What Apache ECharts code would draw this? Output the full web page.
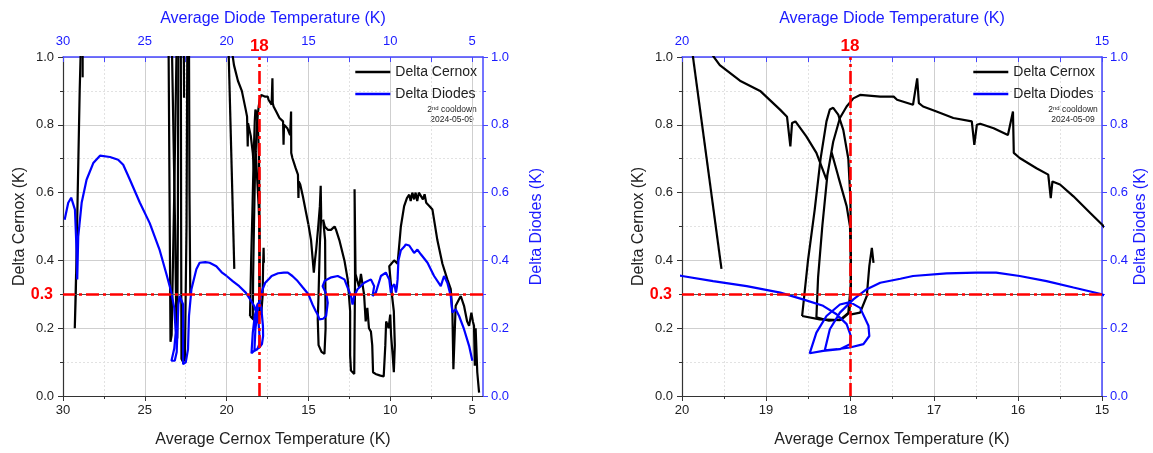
<!DOCTYPE html>
<html><head><meta charset="utf-8">
<script src="https://cdn.jsdelivr.net/npm/echarts@6/dist/echarts.min.js"></script>
<style>html,body{margin:0;padding:0;background:#fff}#c{width:1153px;height:453px}</style>
</head><body><div id="c"></div>
<script>
// ---------------- DATA ----------------
// [Average Cernox Temperature (K), Delta Cernox (K)]
const cernoxNear30   = [[29.2,0.36],[29.28,0.2],[29.22,0.3],[29.1,0.6],[28.98,0.9],[28.9,1.05]];
const cernoxStub29   = [[28.8,1.05],[28.8,0.94]];
const cernoxLoops23a = [[23.55,1.05],[23.43,0.16],[23.36,0.18],[23.2,0.6],[23.05,1.05]];
const cernoxLoops23b = [[23.35,1.05],[23.15,0.5],[23.07,0.2],[23.02,0.17],[22.98,0.5],[22.95,1.05]];
const cernoxStub22   = [[22.62,1.05],[22.6,0.88]];
const cernoxLoops22  = [[22.8,1.05],[22.78,0.5],[22.76,0.11],[22.66,0.1],[22.55,0.11],[22.45,0.5],[22.4,1.05]];
const cernoxTail22   = [[22.3,1.05],[22.27,0.6],[22.22,0.3]];
const cernoxDrop20   = [[19.88,1.02],[19.53,0.375]];
const cernox18K = [[19.68,1.02],[19.55,0.976],[19.31,0.93],[19.07,0.90],[18.83,0.844],[18.75,0.824],[18.71,0.736],
  [18.69,0.805],[18.65,0.81],[18.52,0.766],[18.40,0.717],[18.28,0.638],[18.22,0.72],[18.14,0.648],[18.04,0.56],
  [18.0,0.5],[17.99,0.4],[17.99,0.3],[18.01,0.245],[18.1,0.226],[18.25,0.222],[18.4,0.232],[18.38,0.35],[18.33,0.5],
  [18.27,0.65],[18.2,0.75],[18.12,0.82],[18.04,0.854],[17.96,0.878],[17.88,0.888],[17.64,0.883],[17.48,0.883],
  [17.44,0.874],[17.25,0.859],[17.2,0.937],[17.18,0.864],[17.13,0.854],[16.97,0.839],[16.77,0.82],[16.55,0.81],
  [16.52,0.741],[16.49,0.8],[16.45,0.803],[16.29,0.79],[16.12,0.77],[16.06,0.839],[16.05,0.717],[15.98,0.702],
  [15.78,0.672],[15.64,0.653],[15.61,0.584],[15.59,0.633],[15.5,0.624],[15.34,0.589],[15.14,0.54],[15.0,0.506]];
const cernoxOuterLoop18 = [[18.57,0.236],[18.5,0.4],[18.42,0.55],[18.35,0.7],[18.28,0.81],[18.24,0.845],[18.2,0.85],
  [18.14,0.83],[18.08,0.785],[18.02,0.70],[17.995,0.58],[17.99,0.45],[17.99,0.33],[18.02,0.245],[18.12,0.224],
  [18.36,0.226],[18.57,0.236]];
const cernoxRightLoop18 = [[18.0,0.24],[17.88,0.246],[17.8,0.295],[17.77,0.383],[17.74,0.437],[17.72,0.393]];
const cernoxCold = [[15.0,0.506],[14.84,0.46],[14.67,0.364],[14.6,0.4],[14.53,0.43],[14.4,0.5],[14.3,0.56],[14.25,0.62],
  [14.22,0.53],[14.3,0.45],[14.38,0.3],[14.43,0.226],[14.38,0.15],[14.2,0.13],[14.02,0.124],[13.95,0.2],[13.98,0.46],
  [14.1,0.52],[14.0,0.5],[13.8,0.49],[13.62,0.49],[13.4,0.5],[13.31,0.49],[13.11,0.46],[12.8,0.40],[12.6,0.344],
  [12.45,0.25],[12.45,0.12],[12.4,0.075],[12.2,0.065],[12.1,0.07],[12.15,0.35],[12.18,0.61],[12.12,0.36],[11.9,0.32],
  [11.79,0.36],[11.6,0.3],[11.5,0.22],[11.4,0.26],[11.3,0.2],[11.18,0.19],[11.1,0.15],[11.05,0.07],[10.9,0.065],
  [10.6,0.06],[10.4,0.058],[10.3,0.15],[10.25,0.22],[10.1,0.2],[10.0,0.24],[9.95,0.18],[9.85,0.12],[9.78,0.07],
  [9.72,0.15],[9.78,0.25],[9.9,0.3],[10.06,0.383],[9.76,0.40],[9.55,0.39],[9.35,0.50],[9.15,0.56],[8.98,0.584],
  [8.84,0.594],[8.75,0.575],[8.65,0.6],[8.54,0.58],[8.45,0.6],[8.35,0.575],[8.25,0.6],[8.13,0.60],[8.0,0.58],
  [7.9,0.595],[7.8,0.57],[7.72,0.57],[7.6,0.56],[7.42,0.55],[7.12,0.46],[6.81,0.39],[6.51,0.344],[6.3,0.315],
  [6.2,0.246],[6.14,0.079],[6.05,0.2],[6.0,0.266],[5.85,0.28],[5.69,0.295],[5.49,0.266],[5.3,0.22],[5.18,0.207],
  [5.04,0.246],[4.95,0.22],[4.88,0.207],[4.83,0.089],[4.78,0.2],[4.68,0.07],[4.57,0.01]];

// [Average Diode Temperature (K), Delta Diodes (K)]
const diodesWarm = [[29.9,0.52],[29.68,0.57],[29.5,0.585],[29.41,0.58],[29.27,0.55],[29.17,0.43],[29.13,0.344],
  [29.07,0.47],[28.86,0.57],[28.56,0.638],[28.15,0.687],[27.74,0.709],[27.13,0.705],[26.63,0.697],[26.32,0.682],
  [25.91,0.638],[25.3,0.57],[24.7,0.51],[24.09,0.43],[23.68,0.36],[23.4,0.31],[23.2,0.26],[23.11,0.187],[23.2,0.14],
  [23.37,0.104],[23.25,0.102],[23.17,0.104],[23.05,0.13],[23.0,0.2],[22.95,0.27],[22.87,0.295],[22.75,0.295],
  [22.66,0.27],[22.66,0.2],[22.66,0.094],[22.5,0.099],[22.36,0.138],[22.3,0.236],[22.15,0.315],[21.85,0.374],
  [21.65,0.393],[21.3,0.395],[21.04,0.393],[20.63,0.383],[20.3,0.365],[20.0,0.354]];
const diodes18K = [[20.0,0.354],[19.63,0.339],[19.23,0.324],[18.83,0.305],[18.56,0.285],[18.32,0.266],[18.16,0.241],
  [18.04,0.212],[17.99,0.177],[18.0,0.153],[18.12,0.138],[18.32,0.133],[18.48,0.126],[18.4,0.187],[18.28,0.236],
  [18.12,0.27],[18.0,0.277],[17.88,0.26],[17.78,0.207],[17.77,0.177],[17.84,0.153],[18.0,0.143],[18.15,0.138],
  [18.3,0.135],[18.24,0.197],[18.12,0.246],[17.96,0.285],[17.8,0.315],[17.64,0.334],[17.4,0.346],[17.25,0.354],
  [16.85,0.362],[16.5,0.364],[16.26,0.364],[15.98,0.354],[15.66,0.339],[15.34,0.32],[15.0,0.30]];
const diodesCold = [[15.0,0.30],[14.75,0.27],[14.55,0.25],[14.43,0.24],[14.33,0.226],[14.1,0.228],[13.92,0.236],
  [13.82,0.275],[13.9,0.3],[14.13,0.324],[14.0,0.34],[13.92,0.344],[13.6,0.35],[13.21,0.354],[12.8,0.344],[12.4,0.295],
  [12.3,0.27],[12.2,0.295],[12.0,0.315],[11.59,0.334],[11.18,0.344],[10.98,0.324],[11.08,0.295],[10.88,0.305],
  [10.57,0.354],[10.27,0.364],[10.06,0.344],[9.96,0.305],[9.86,0.324],[9.75,0.33],[9.65,0.305],[9.6,0.32],[9.55,0.344],
  [9.5,0.4],[9.35,0.43],[9.15,0.44],[9.05,0.447],[8.84,0.444],[8.54,0.422],[8.34,0.432],[8.13,0.418],[7.72,0.393],
  [7.32,0.354],[6.91,0.324],[6.71,0.354],[6.51,0.334],[6.3,0.295],[6.2,0.246],[6.0,0.256],[5.79,0.236],[5.49,0.197],
  [5.18,0.148],[4.98,0.104]];

const cernoxSegments = [cernoxNear30, cernoxStub29, cernoxLoops23a, cernoxLoops23b, cernoxStub22, cernoxLoops22,
  cernoxTail22, cernoxDrop20, cernox18K, cernoxOuterLoop18, cernoxRightLoop18, cernoxCold];
const diodeSegments = [diodesWarm, diodes18K, diodesCold];

// reference lines
const refTemp = 18;
const refDelta = 0.3;

// tick values
const wideMajorTicks = [5, 10, 15, 20, 25, 30];
const wideMinorTicks = [7.5, 12.5, 17.5, 22.5, 27.5];
const wideTopTicks = [5, 7.5, 10, 12.5, 15, 17.5, 20, 22.5, 25, 27.5, 30];
const zoomMajorTicks = [15, 16, 17, 18, 19, 20];
const zoomMinorTicks = [15.5, 16.5, 17.5, 18.5, 19.5];
const zoomTopLabels = [15, 20];
const zoomTopTicks = [15, 15.5, 16, 16.5, 17, 17.5, 18, 18.5, 19, 19.5, 20];

const legendNames = ['Delta Cernox', 'Delta Diodes'];

// ---------------- STYLE / LAYOUT ----------------
const FONT = '"Liberation Sans", Arial, sans-serif';
const INK = '#222222';
const BLUE = '#1a1aff';
const BLUE_AX = '#4646ff';
const RED = '#ff0000';

const panels = [
  { min: 4.33, max: 30, grid: {left: 63, top: 57, width: 420, height: 340},
    major: wideMajorTicks, minor: wideMinorTicks, topLabels: wideMajorTicks, topTicks: wideTopTicks,
    rightGap: 46, legendRight: 671, noteX: 452 },
  { min: 15, max: 20, grid: {left: 682, top: 57, width: 420, height: 340},
    major: zoomMajorTicks, minor: zoomMinorTicks, topLabels: zoomTopLabels, topTicks: zoomTopTicks,
    rightGap: 31, legendRight: 53, noteX: 1073 }
];

const grid = [], xAxis = [], yAxis = [], series = [], legend = [], graphic = [];
const lbl = (c) => ({fontSize: 13, color: c, fontFamily: FONT});

panels.forEach((p, gi) => {
  grid.push(p.grid);
  const xb = xAxis.length;
  xAxis.push({ type: 'value', gridIndex: gi, position: 'bottom', min: p.min, max: p.max, inverse: true,
    name: 'Average Cernox Temperature (K)', nameLocation: 'middle', nameGap: 36,
    nameTextStyle: {fontSize: 16, color: INK, fontFamily: FONT},
    axisLine: {show: true, onZero: false, lineStyle: {color: '#333', width: 1.2}},
    axisTick: {show: true, inside: false, length: 5, customValues: p.major, lineStyle: {color: '#333'}},
    axisLabel: Object.assign({customValues: p.major, margin: 8}, lbl(INK)),
    splitLine: {show: true, lineStyle: {color: '#cfcfcf', width: 1}} });
  const xt = xAxis.length;
  xAxis.push({ type: 'value', gridIndex: gi, position: 'top', min: p.min, max: p.max, inverse: true,
    name: 'Average Diode Temperature (K)', nameLocation: 'middle', nameGap: 30,
    nameTextStyle: {fontSize: 16, color: BLUE, fontFamily: FONT},
    axisLine: {show: true, onZero: false, lineStyle: {color: BLUE_AX, width: 1.5}},
    axisTick: {show: true, inside: true, length: 5, customValues: p.topTicks, lineStyle: {color: BLUE_AX}},
    axisLabel: Object.assign({customValues: p.topLabels, margin: 9}, lbl(BLUE)),
    splitLine: {show: false} });
  xAxis.push({ type: 'value', gridIndex: gi, position: 'bottom', min: p.min, max: p.max, inverse: true,
    axisLine: {show: false}, axisLabel: {show: false},
    axisTick: {show: true, inside: false, length: 3, customValues: p.minor, lineStyle: {color: '#333'}},
    splitLine: {show: true, lineStyle: {color: '#e2e2e2', width: 1, type: [2, 2]}} });
  const yl = yAxis.length;
  yAxis.push({ type: 'value', gridIndex: gi, position: 'left', min: 0, max: 1, interval: 0.2,
    name: 'Delta Cernox (K)', nameLocation: 'middle', nameGap: 35, nameRotate: 90,
    nameTextStyle: {fontSize: 16, color: INK, fontFamily: FONT},
    axisLine: {show: true, onZero: false, lineStyle: {color: '#333', width: 1.2}},
    axisTick: {show: true, length: 5, lineStyle: {color: '#333'}},
    minorTick: {show: true, splitNumber: 2, length: 3, lineStyle: {color: '#333'}},
    axisLabel: Object.assign({formatter: v => v.toFixed(1), margin: 9}, lbl(INK)),
    splitLine: {show: true, lineStyle: {color: '#cfcfcf', width: 1}},
    minorSplitLine: {show: true, lineStyle: {color: '#e2e2e2', width: 1, type: [2, 2]}} });
  const yr = yAxis.length;
  yAxis.push({ type: 'value', gridIndex: gi, position: 'right', min: 0, max: 1, interval: 0.2,
    name: 'Delta Diodes (K)', nameLocation: 'middle', nameGap: p.rightGap, nameRotate: 90,
    nameTextStyle: {fontSize: 16, color: BLUE, fontFamily: FONT},
    axisLine: {show: true, onZero: false, lineStyle: {color: BLUE_AX, width: 1.5}},
    axisTick: {show: true, length: 5, lineStyle: {color: BLUE_AX}},
    minorTick: {show: true, splitNumber: 2, length: 3, lineStyle: {color: BLUE_AX}},
    axisLabel: Object.assign({formatter: v => v.toFixed(1), margin: 8}, lbl(BLUE)),
    splitLine: {show: false} });

  cernoxSegments.forEach(seg => series.push({
    type: 'line', name: legendNames[0], xAxisIndex: xb, yAxisIndex: yl, data: seg,
    symbol: 'none', clip: true, z: 2, lineStyle: {color: '#000', width: 2.2}, itemStyle: {color: '#000'},
    emphasis: {disabled: true}, animation: false }));
  diodeSegments.forEach(seg => series.push({
    type: 'line', name: legendNames[1], xAxisIndex: xt, yAxisIndex: yr, data: seg,
    symbol: 'none', clip: true, z: 3, lineStyle: {color: '#0000ff', width: 2.2}, itemStyle: {color: '#0000ff'},
    emphasis: {disabled: true}, animation: false }));
  series.push({ type: 'line', name: 'reference', xAxisIndex: xb, yAxisIndex: yl, data: [], z: 5,
    animation: false, silent: true,
    markLine: { silent: true, symbol: ['none', 'none'], animation: false,
      data: [
        {yAxis: refDelta, lineStyle: {color: '#555', width: 1.2, type: 'solid'}, label: {show: false}},
        {yAxis: refDelta, lineStyle: {color: RED, width: 2.6, type: [13, 4, 3, 4]},
         label: {show: true, position: 'end', distance: 10, formatter: String(refDelta), color: RED,
                 fontSize: 16, fontWeight: 'bold', fontFamily: FONT}},
        {xAxis: refTemp, lineStyle: {color: RED, width: 2.6, type: [13, 4, 3, 4]},
         label: {show: true, position: 'end', distance: 2, formatter: String(refTemp), color: RED,
                 fontSize: 17, fontWeight: 'bold', fontFamily: FONT}}
      ] } });

  legend.push({ data: legendNames, orient: 'vertical', right: p.legendRight, top: 59, icon: 'rect',
    itemWidth: 35, itemHeight: 2.4, itemGap: 6, selectedMode: false,
    textStyle: {fontSize: 14, color: INK, fontFamily: FONT, lineHeight: 16} });

  graphic.push({ type: 'text', x: p.noteX, y: 110, silent: true,
    style: { text: '{a|2}{s|nd}{a| cooldown}', align: 'center', verticalAlign: 'middle',
      rich: { a: {fontSize: 8.5, fontFamily: FONT, fill: INK}, s: {fontSize: 6, fontFamily: FONT, fill: INK, verticalAlign: 'top', padding: [0, 0, 4, 0]} } } });
  graphic.push({ type: 'text', x: p.noteX, y: 120, silent: true,
    style: { text: '2024-05-09', align: 'center', verticalAlign: 'middle', fontSize: 8.5, fontFamily: FONT, fill: INK } });
});

const chart = echarts.init(document.getElementById('c'), null, {renderer: 'canvas'});
chart.setOption({ animation: false, backgroundColor: '#fff', textStyle: {fontFamily: FONT},
  grid, xAxis, yAxis, series, legend, graphic });
</script>
</body></html>
